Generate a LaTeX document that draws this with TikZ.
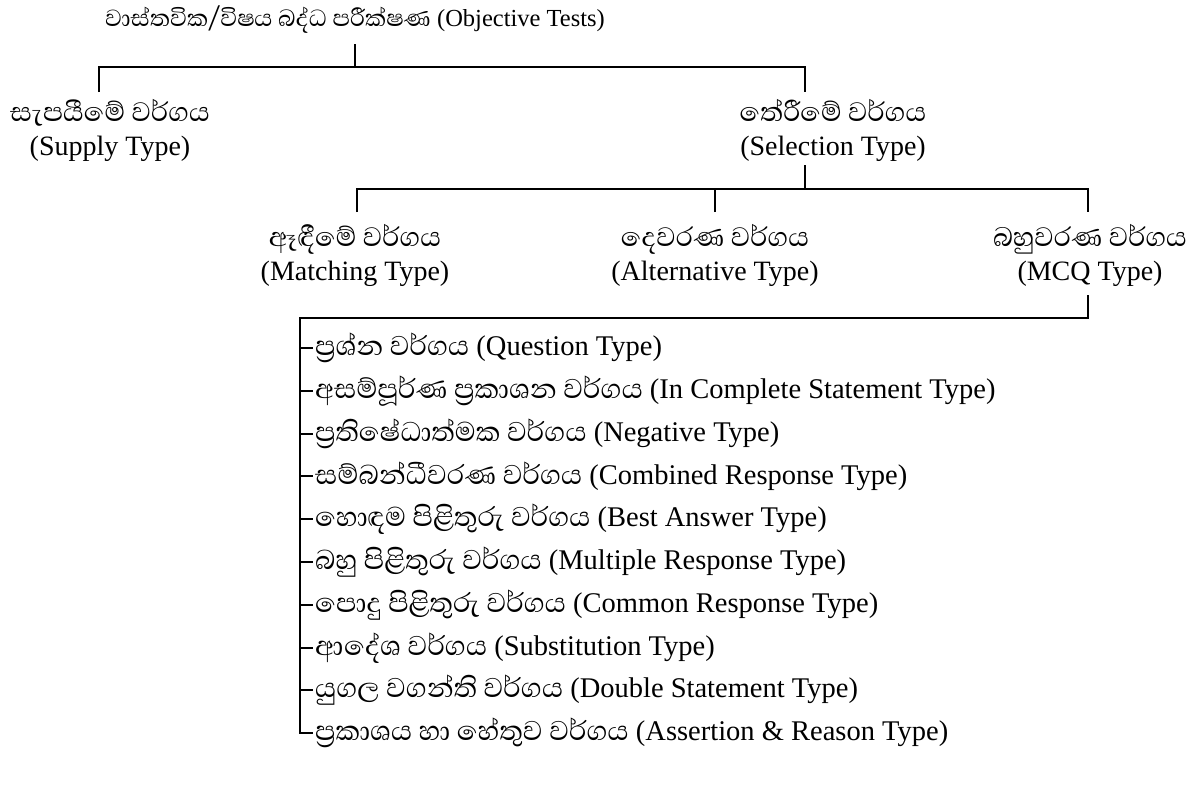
\documentclass[tikz,border=0pt]{standalone}
\usepackage{fontspec}
\setmainfont{Liberation Serif}
\newfontfamily\sinhf[Script=Sinhala,Scale=1.22]{Abhaya Libre}
\begin{document}
\begin{tikzpicture}[x=1pt,y=-1pt,
  lbl/.style={inner sep=0pt, align=center, font=\fontsize{28}{34}\selectfont},
  ttl/.style={inner sep=0pt, align=center, font=\fontsize{24.5}{30}\selectfont},
  item/.style={inner sep=0pt, anchor=west, font=\fontsize{28.5}{30}\selectfont},
  conn/.style={line width=1.1pt}]
\useasboundingbox (0,0) rectangle (1195,796);
% nodes
\node[ttl] (title) at (355,20) {{\sinhf වාස්තවික/විෂය බද්ධ පරීක්ෂණ} (Objective Tests)};
\node[lbl] (supply) at (110,130) {{\sinhf සැපයීමේ වර්ගය}\\(Supply Type)};
\node[lbl] (select) at (833,130) {{\sinhf තේරීමේ වර්ගය}\\(Selection Type)};
\node[lbl] (match) at (355,255) {{\sinhf ඈඳීමේ වර්ගය}\\(Matching Type)};
\node[lbl] (alt) at (715,255) {{\sinhf දෙවරණ වර්ගය}\\(Alternative Type)};
\node[lbl] (mcq) at (1090,255) {{\sinhf බහුවරණ වර්ගය}\\(MCQ Type)};
\node[item] (i1) at (315,348) {{\sinhf ප්‍රශ්න වර්ගය} (Question Type)};
\node[item] (i2) at (315,391) {{\sinhf අසම්පූර්ණ ප්‍රකාශන වර්ගය} (In Complete Statement Type)};
\node[item] (i3) at (315,434) {{\sinhf ප්‍රතිෂේධාත්මක වර්ගය} (Negative Type)};
\node[item] (i4) at (315,476) {{\sinhf සම්බන්ධීවරණ වර්ගය} (Combined Response Type)};
\node[item] (i5) at (315,519) {{\sinhf හොඳම පිළිතුරු වර්ගය} (Best Answer Type)};
\node[item] (i6) at (315,562) {{\sinhf බහු පිළිතුරු වර්ගය} (Multiple Response Type)};
\node[item] (i7) at (315,605) {{\sinhf පොදු පිළිතුරු වර්ගය} (Common Response Type)};
\node[item] (i8) at (315,648) {{\sinhf ආදේශ වර්ගය} (Substitution Type)};
\node[item] (i9) at (315,690) {{\sinhf යුගල වගන්ති වර්ගය} (Double Statement Type)};
\node[item] (i10) at (315,733) {{\sinhf ප්‍රකාශය හා හේතුව වර්ගය} (Assertion \& Reason Type)};
% junction coordinates
\coordinate (tb) at (355,44);
\coordinate (tj) at (355,67);
\coordinate (sl) at (99,67);
\coordinate (sd) at (99,92);
\coordinate (sr) at (805,67);
\coordinate (sd2) at (805,92);
\coordinate (st) at (805,165);
\coordinate (sj) at (805,189);
\coordinate (ml) at (357,189);
\coordinate (md) at (357,212);
\coordinate (ad) at (715,212);
\coordinate (mr) at (1088,189);
\coordinate (mrd) at (1088,212);
\coordinate (qb) at (1088,295);
\coordinate (qj) at (1088,318);
\coordinate (lv) at (300,318);
% connectors
\draw[conn] (tb) -- (tj);
\draw[conn] (sd) -- (sl) -- (sr) -- (sd2);
\draw[conn] (st) -- (sj);
\draw[conn] (md) -- (ml) -- (mr) -- (mrd);
\draw[conn] (ad) -- (ad |- ml);
\draw[conn] (qb) -- (qj) -- (lv) |- ([xshift=-2pt]i10.west);
\foreach \k in {1,...,9}{
  \draw[conn] (lv |- i\k.west) -- ([xshift=-2pt]i\k.west);
}
\end{tikzpicture}
\end{document}
